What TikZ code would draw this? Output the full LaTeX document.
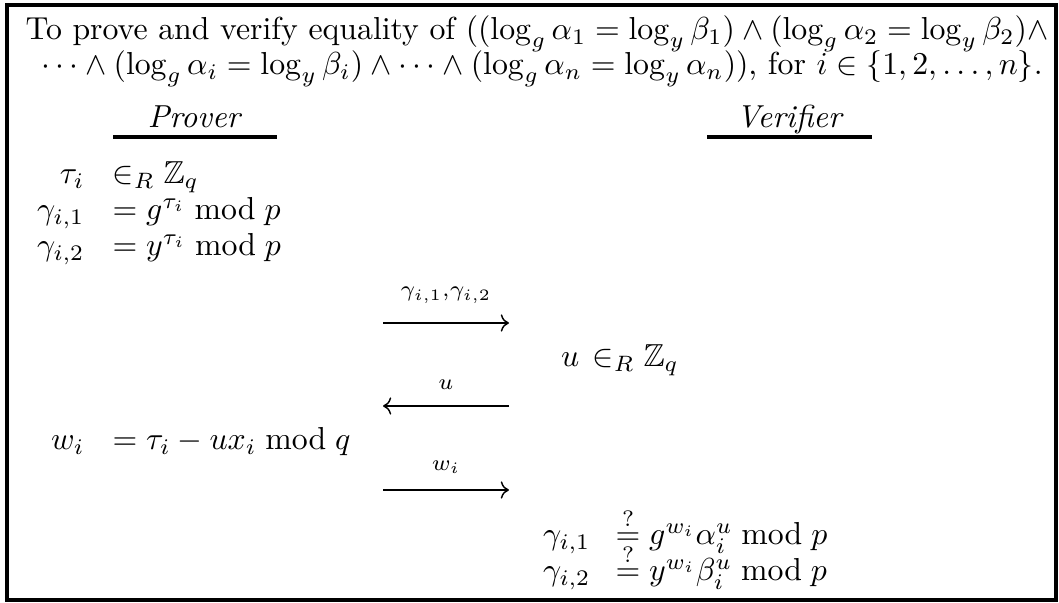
\documentclass[tikz,border=0pt]{standalone}
\usepackage{amsmath,amssymb}
\usetikzlibrary{arrows.meta,positioning}

\tikzset{
  txt/.style={inner sep=0pt},
  msg/.style={->,line width=0.45pt},
  rolebar/.style={line width=1pt}
}

\begin{document}
\begin{tikzpicture}[x=0.3145pt,y=-0.3145pt,>={Computer Modern Rightarrow}]
\useasboundingbox (0,0) rectangle (1059,603);
% Frame round the whole protocol
\draw[line width=1pt] (7,5) rectangle (1056,600);
\node[txt,anchor=base] (head1) at (537,40) {To prove and verify equality of $((\log_g\alpha_1=\log_y\beta_1)\wedge(\log_g\alpha_2=\log_y\beta_2)\wedge$};
\node[txt,anchor=base] (head2) at (542,75) {$\cdots\wedge(\log_g\alpha_i=\log_y\beta_i)\wedge\cdots\wedge(\log_g\alpha_n=\log_y\alpha_n))$, for $i\in\{1,2,\ldots,n\}$.};
% Roles
\node[txt,anchor=base] (prover) at (195,128) {\textit{Prover}};
\node[txt,anchor=base] (verifier) at (790,128) {\textit{Verifier}};
\coordinate (pbarL) at (113,137);
\coordinate (pbarR) at (277,137);
\coordinate (vbarL) at (707,137);
\coordinate (vbarR) at (872,137);
\draw[rolebar] (pbarL) -- (pbarR);
\draw[rolebar] (vbarL) -- (vbarR);
% Prover commitments
\node[txt,anchor=base east] (tau) at (85,184) {$\tau_i$};
\node[txt,anchor=base west] (tauR) at (112,184) {$\in_R\mathbb{Z}_q$};
\node[txt,anchor=base east] (g1) at (85,220) {$\gamma_{i,1}$};
\node[txt,anchor=base west] (g1R) at (112,220) {$=g^{\tau_i}\bmod p$};
\node[txt,anchor=base east] (g2) at (85,256) {$\gamma_{i,2}$};
\node[txt,anchor=base west] (g2R) at (112,256) {$=y^{\tau_i}\bmod p$};
% First message
\coordinate (m1L) at (383,323);
\coordinate (m1R) at (509,323);
\draw[msg] (m1L) -- (m1R) node[midway,above=6pt,txt] (m1) {$\scriptstyle\gamma_{i,1},\gamma_{i,2}$};
% Challenge
\node[txt,anchor=base east] (u) at (580,367) {$u$};
\node[txt,anchor=base west] (uR) at (592,367) {$\in_R\mathbb{Z}_q$};
\coordinate (m2L) at (383,406);
\coordinate (m2R) at (509,406);
\draw[msg] (m2R) -- (m2L) node[midway,above=5pt,txt] (m2) {$\scriptstyle u$};
% Response
\node[txt,anchor=base east] (w) at (85,450) {$w_i$};
\node[txt,anchor=base west] (wR) at (112,450) {$=\tau_i-ux_i\bmod q$};
\coordinate (m3L) at (383,490);
\coordinate (m3R) at (509,490);
\draw[msg] (m3L) -- (m3R) node[midway,above=5pt,txt] (m3) {$\scriptstyle w_i$};
% Verification
\node[txt,anchor=base east] (c1) at (591,545) {$\gamma_{i,1}$};
\node[txt,anchor=base west] (c1R) at (615,545) {$\stackrel{?}{=}g^{w_i}\alpha_i^u\bmod p$};
\node[txt,anchor=base east] (c2) at (591,581) {$\gamma_{i,2}$};
\node[txt,anchor=base west] (c2R) at (615,581) {$\stackrel{?}{=}y^{w_i}\beta_i^u\bmod p$};
\end{tikzpicture}
\end{document}
